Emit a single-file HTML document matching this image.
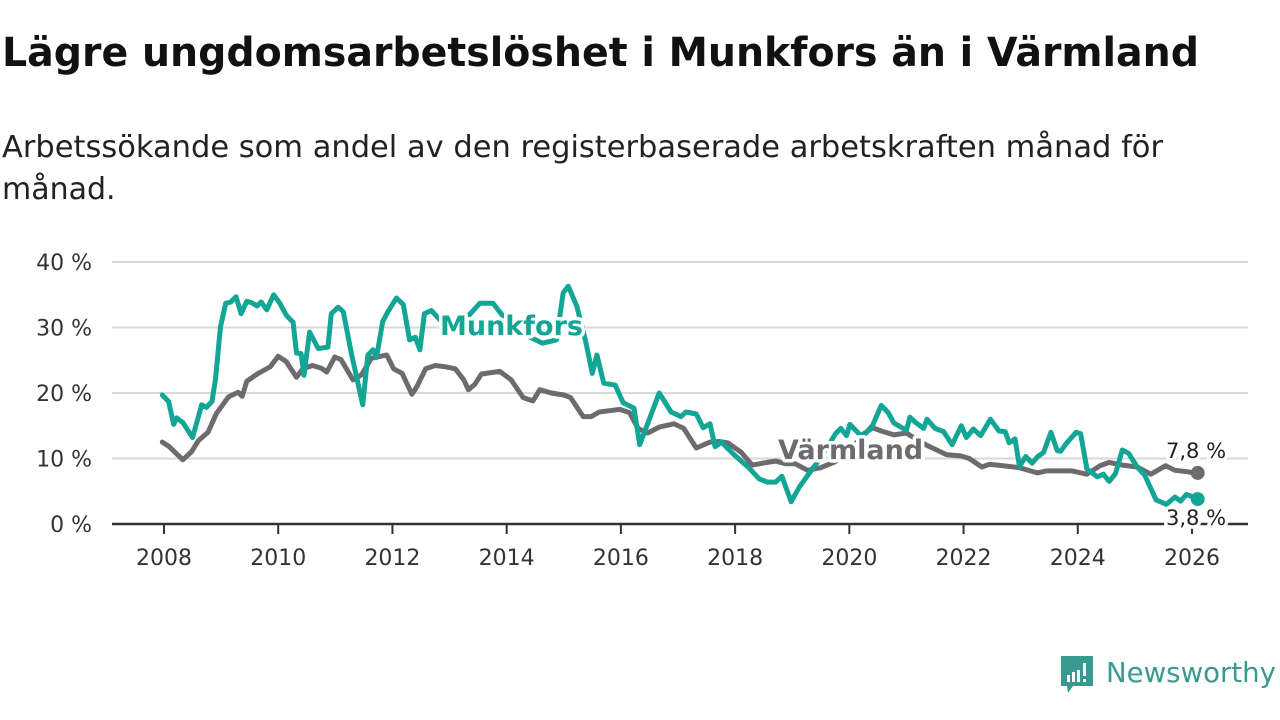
<!DOCTYPE html>
<html><head><meta charset="utf-8">
<style>
html,body{margin:0;padding:0;background:#fff;width:1280px;height:720px;overflow:hidden;font-family:"Liberation Sans","DejaVu Sans",sans-serif;}
</style></head>
<body>
<svg width="1280" height="720" viewBox="0 0 1280 720" xmlns="http://www.w3.org/2000/svg">
<text x="2" y="66" font-size="40" font-weight="bold" fill="#111" font-family="DejaVu Sans, sans-serif" textLength="1197" lengthAdjust="spacingAndGlyphs">Lägre ungdomsarbetslöshet i Munkfors än i Värmland</text>
<text x="2" y="157" font-size="30" fill="#222" font-family="DejaVu Sans, sans-serif" textLength="1161" lengthAdjust="spacingAndGlyphs">Arbetssökande som andel av den registerbaserade arbetskraften månad för</text>
<text x="2" y="199" font-size="30" fill="#222" font-family="DejaVu Sans, sans-serif">månad.</text>
<g id="grid"></g>
<g id="xaxis"></g>
<g id="series"></g>
<g id="labels"></g>
<g>
<path d="M1061 656 h32 v30 h-20 l-5 7 l-1 -7 h-6 z" fill="#3a9a8f"/>
<rect x="1067" y="675" width="3" height="7" fill="#fff"/><rect x="1072" y="672" width="3" height="10" fill="#fff"/><rect x="1077" y="670" width="3" height="12" fill="#fff"/><rect x="1083" y="663" width="3" height="13" fill="#fff"/><rect x="1083" y="679" width="3" height="3" fill="#fff"/>
<text x="1106" y="682" font-size="28" fill="#3a9a8f" font-family="DejaVu Sans, sans-serif" textLength="170" lengthAdjust="spacingAndGlyphs">Newsworthy</text>
</g>
</svg>
<script>
const yTicks=[0,10,20,30,40];
const yTickLabels=["0 %","10 %","20 %","30 %","40 %"];
const xTicks=[2008,2010,2012,2014,2016,2018,2020,2022,2024,2026];
const munkYears=[2007.97,2008.08,2008.17,2008.22,2008.33,2008.5,2008.66,2008.74,2008.84,2008.9,2008.99,2009.08,2009.17,2009.26,2009.35,2009.45,2009.53,2009.63,2009.7,2009.8,2009.92,2010.03,2010.14,2010.26,2010.32,2010.4,2010.45,2010.55,2010.7,2010.87,2010.93,2011.05,2011.14,2011.28,2011.48,2011.57,2011.66,2011.72,2011.83,2011.92,2012.07,2012.19,2012.3,2012.4,2012.48,2012.56,2012.68,2012.85,2013.1,2013.3,2013.53,2013.76,2014.0,2014.3,2014.63,2014.87,2014.99,2015.08,2015.23,2015.38,2015.5,2015.58,2015.7,2015.9,2016.04,2016.23,2016.33,2016.67,2016.88,2017.05,2017.14,2017.32,2017.44,2017.56,2017.65,2017.76,2017.98,2018.24,2018.42,2018.56,2018.71,2018.82,2018.98,2019.13,2019.27,2019.42,2019.6,2019.76,2019.85,2019.95,2020.01,2020.2,2020.38,2020.56,2020.68,2020.78,2021.0,2021.06,2021.16,2021.3,2021.36,2021.5,2021.65,2021.8,2021.96,2022.05,2022.17,2022.3,2022.47,2022.62,2022.73,2022.8,2022.9,2022.98,2023.09,2023.2,2023.3,2023.4,2023.53,2023.64,2023.7,2023.8,2023.97,2024.05,2024.16,2024.34,2024.45,2024.55,2024.66,2024.78,2024.89,2025.04,2025.17,2025.37,2025.55,2025.7,2025.8,2025.9,2026.03,2026.1];
const munkValues=[19.7,18.7,15.2,16.2,15.5,13.2,18.2,17.8,18.7,22.0,30.1,33.7,33.9,34.7,32.1,34.0,33.8,33.3,33.9,32.7,35.0,33.7,31.9,30.8,26.1,26.0,22.7,29.3,26.8,27.0,32.1,33.1,32.4,26.1,18.2,25.8,26.6,25.4,30.9,32.4,34.5,33.5,28.1,28.5,26.6,32.1,32.6,31.0,30.0,31.5,33.7,33.7,31.0,29.0,27.6,28.1,35.3,36.3,33.2,28.0,23.0,25.8,21.5,21.2,18.5,17.7,12.1,20.0,17.1,16.4,17.1,16.8,14.7,15.3,11.8,12.5,10.6,8.6,6.9,6.4,6.4,7.3,3.4,5.7,7.4,9.2,11.5,13.8,14.6,13.5,15.2,13.5,14.5,18.1,17.0,15.4,14.3,16.3,15.5,14.6,16.0,14.6,14.1,12.1,15.0,13.2,14.5,13.5,16.0,14.2,14.1,12.4,13.0,8.8,10.3,9.3,10.3,10.9,14.0,11.2,11.1,12.3,14.0,13.8,8.4,7.2,7.6,6.5,7.7,11.3,10.8,8.7,7.5,3.7,3.0,4.1,3.5,4.5,4.1,3.8];
const varmYears=[2007.97,2008.08,2008.33,2008.48,2008.6,2008.77,2008.92,2009.13,2009.3,2009.37,2009.45,2009.65,2009.86,2010.0,2010.14,2010.32,2010.43,2010.6,2010.75,2010.85,2010.99,2011.1,2011.31,2011.46,2011.63,2011.9,2012.02,2012.17,2012.34,2012.43,2012.58,2012.75,2012.93,2013.1,2013.25,2013.33,2013.44,2013.56,2013.88,2014.08,2014.29,2014.46,2014.58,2014.78,2015.0,2015.12,2015.34,2015.48,2015.62,2015.8,2015.98,2016.15,2016.3,2016.47,2016.67,2016.93,2017.1,2017.32,2017.56,2017.72,2017.87,2018.1,2018.3,2018.56,2018.71,2018.88,2019.05,2019.27,2019.5,2019.75,2020.0,2020.2,2020.38,2020.56,2020.78,2021.0,2021.2,2021.36,2021.7,2021.95,2022.1,2022.32,2022.45,2022.6,2022.98,2023.29,2023.45,2023.9,2024.16,2024.39,2024.55,2024.78,2025.04,2025.28,2025.54,2025.7,2025.9,2026.03,2026.1];
const varmValues=[12.5,11.9,9.8,11.0,12.7,14.0,16.9,19.4,20.1,19.5,21.8,23.0,24.0,25.6,24.8,22.4,23.7,24.2,23.8,23.2,25.5,25.1,22.0,22.8,25.3,25.8,23.7,23.0,19.8,21.0,23.7,24.2,24.0,23.7,22.0,20.5,21.3,22.9,23.3,22.0,19.3,18.8,20.5,20.0,19.7,19.3,16.4,16.4,17.1,17.3,17.5,17.0,14.6,13.9,14.8,15.3,14.6,11.6,12.5,12.6,12.4,11.0,9.0,9.4,9.6,9.2,9.2,8.2,8.6,9.5,11.5,13.0,14.8,14.2,13.6,13.9,12.8,12.0,10.6,10.4,10.0,8.7,9.1,9.0,8.6,7.8,8.1,8.1,7.6,8.9,9.4,9.0,8.7,7.6,8.9,8.2,8.0,7.8,7.8];
const NS='http://www.w3.org/2000/svg';
const X0=164,X1=1192,Y0=524,Y1=262;
function xs(y){return X0+(y-2008)*(X1-X0)/18;}
function ys(v){return Y0-(v/40)*(Y0-Y1);}
function mk(t,a,p){const e=document.createElementNS(NS,t);for(const k in a)e.setAttribute(k,a[k]);p.appendChild(e);return e;}
const grid=document.getElementById('grid'),xa=document.getElementById('xaxis'),se=document.getElementById('series'),lb=document.getElementById('labels');
yTicks.forEach((t,i)=>{
  if(t>0){const l=mk('line',{x1:112,x2:1248,y1:ys(t),y2:ys(t),stroke:'#d9d9d9','stroke-width':2},grid);
  
  }
  const tx=mk('text',{x:92,y:ys(t)+8,'text-anchor':'end','font-size':22,fill:'#333','font-family':'DejaVu Sans, sans-serif'},grid);
  tx.textContent=yTickLabels[i];
  
  
});
const ax=mk('line',{x1:112,x2:1248,y1:Y0,y2:Y0,stroke:'#333','stroke-width':2.5},xa);


xTicks.forEach(t=>{
  const tk=mk('line',{x1:xs(t),x2:xs(t),y1:Y0,y2:Y0+10,stroke:'#333','stroke-width':2},xa);
  
  
  const tx=mk('text',{x:xs(t),y:565,'text-anchor':'middle','font-size':22,fill:'#333','font-family':'DejaVu Sans, sans-serif'},xa);
  tx.textContent=t;
  
  
});
function line(yrs,vals,col,name){
  const d=yrs.map((y,i)=>(i?'L':'M')+xs(y).toFixed(1)+' '+ys(vals[i]).toFixed(1)).join(' ');
  const p=mk('path',{d:d,fill:'none',stroke:col,'stroke-width':5,'stroke-linejoin':'round','stroke-linecap':'round'},se);
  
  
  const c=mk('circle',{cx:xs(yrs[yrs.length-1]),cy:ys(vals[vals.length-1]),r:7,fill:col},se);
  
  
}
line(varmYears,varmValues,'#6d6b6f','varmland-line');
line(munkYears,munkValues,'#13a596','munkfors-line');
function label(x,y,txt,col,sz,w,name){
  const t=mk('text',{x:x,y:y,'font-size':sz,'font-weight':w,fill:col,stroke:'#fff','stroke-width':7,'paint-order':'stroke','stroke-linejoin':'round','font-family':'DejaVu Sans, sans-serif'},lb);
  t.textContent=txt;
  
  
}
label(440,335,'Munkfors','#13a596',27,'bold','munkfors-label');
label(778,459,'Värmland','#6d6b6f',27,'bold','varmland-label');
label(1166,458,'7,8 %','#222',21,'normal','varmland-end-value');
label(1166,525,'3,8 %','#222',21,'normal','munkfors-end-value');
</script>
</body></html>
